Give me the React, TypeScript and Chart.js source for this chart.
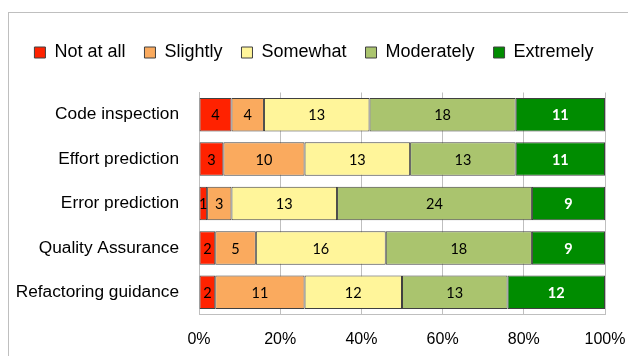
import React, { useEffect, useRef } from "react";
import { Chart, registerables } from "chart.js";

Chart.register(...registerables);

const categories = [
  "Code inspection",
  "Effort prediction",
  "Error prediction",
  "Quality Assurance",
  "Refactoring guidance",
];
const seriesNames = ["Not at all", "Slightly", "Somewhat", "Moderately", "Extremely"];
const notAtAll = [4, 3, 1, 2, 2];
const slightly = [4, 10, 3, 5, 11];
const somewhat = [13, 13, 13, 16, 12];
const moderately = [18, 13, 24, 18, 13];
const extremely = [11, 11, 9, 9, 12];
const seriesColors = ["#FF2200", "#FAAA5E", "#FFF59A", "#AAC46E", "#008C00"];
const labelColors = ["#000000", "#000000", "#000000", "#000000", "#FFFFFF"];
const xTickValues = [0, 20, 40, 60, 80, 100];

const seriesCounts = [notAtAll, slightly, somewhat, moderately, extremely];

const barLabelPlugin = {
  id: "barLabels",
  afterDatasetsDraw(chart: any) {
    const ctx = chart.ctx;
    chart.data.datasets.forEach((ds: any, di: number) => {
      const meta = chart.getDatasetMeta(di);
      meta.data.forEach((bar: any, i: number) => {
        const p = bar.getProps(["x", "y", "base"], true);
        const cx = (p.x + p.base) / 2;
        ctx.save();
        ctx.font = (di === 4 ? "bold " : "") + "14.5px Lato, 'DejaVu Sans', sans-serif";
        ctx.fillStyle = labelColors[di];
        ctx.textAlign = "center";
        ctx.textBaseline = "middle";
        ctx.fillText(String(ds.counts[i]), cx, p.y + 1);
        ctx.restore();
      });
    });
  },
};

const legendHeightPlugin = {
  id: "legendHeight",
  beforeInit(chart: any) {
    const legend = chart.legend;
    if (!legend) return;
    const origFit = legend.fit;
    legend.fit = function () {
      origFit.call(this);
      this.height = 68;
    };
  },
};

export default function App() {
  const ref = useRef<HTMLCanvasElement | null>(null);

  useEffect(() => {
    if (!ref.current) return;
    const totals = categories.map((_, i) =>
      seriesCounts.reduce((s, arr) => s + arr[i], 0)
    );
    const datasets = seriesNames.map((name, di) => ({
      label: name,
      data: seriesCounts[di].map((v, i) => (v / totals[i]) * 100),
      counts: seriesCounts[di],
      backgroundColor: seriesColors[di],
      borderColor: "#404040",
      borderWidth: 1,
      borderSkipped: false,
      categoryPercentage: 1,
      barPercentage: 0.755,
    }));

    const chart = new Chart(ref.current, {
      type: "bar",
      data: { labels: categories, datasets: datasets as any },
      plugins: [legendHeightPlugin, barLabelPlugin],
      options: {
        indexAxis: "y",
        animation: false,
        responsive: false,
        maintainAspectRatio: false,
        devicePixelRatio: 1,
        layout: { padding: { top: 24.5, left: 0, right: 0, bottom: 0 } },
        plugins: {
          legend: {
            position: "top",
            labels: {
              boxWidth: 11,
              boxHeight: 11,
              padding: 19,
              color: "#000",
              font: { family: "'Liberation Sans', Arial, sans-serif", size: 18 },
            },
          },
          tooltip: { enabled: false },
        },
        scales: {
          x: {
            stacked: true,
            min: 0,
            max: 100,
            afterBuildTicks(scale: any) {
              scale.ticks = xTickValues.map((v) => ({ value: v }));
            },
            afterFit(scale: any) {
              scale.height = 41.5;
              scale.paddingRight = 23;
            },
            ticks: {
              padding: 15,
              color: "#000",
              font: { family: "'Liberation Sans', Arial, sans-serif", size: 16 },
              callback: (v: any) => v + "%",
            },
            grid: { color: "#BFBFBF", drawTicks: false, lineWidth: 1 },
            border: { display: true, color: "#BFBFBF" },
          },
          y: {
            stacked: true,
            afterFit(scale: any) {
              scale.width = 199;
            },
            ticks: {
              padding: 20,
              color: "#000",
              font: { family: "'Liberation Sans', Arial, sans-serif", size: 17.3 },
            },
            grid: { display: false, drawTicks: false },
            border: { display: true, color: "#BFBFBF" },
          },
        },
      } as any,
    });
    return () => chart.destroy();
  }, []);

  return (
    <>
      <div
        style={{
          position: "fixed",
          left: 8,
          top: 12,
          width: 620,
          height: 344,
          boxSizing: "border-box",
          borderLeft: "1px solid #BFBFBF",
          borderTop: "1px solid #BFBFBF",
        }}
      />
      <canvas
        ref={ref}
        width={628}
        height={356}
        style={{ position: "fixed", left: 0, top: 0, width: 628, height: 356 }}
      />
    </>
  );
}
